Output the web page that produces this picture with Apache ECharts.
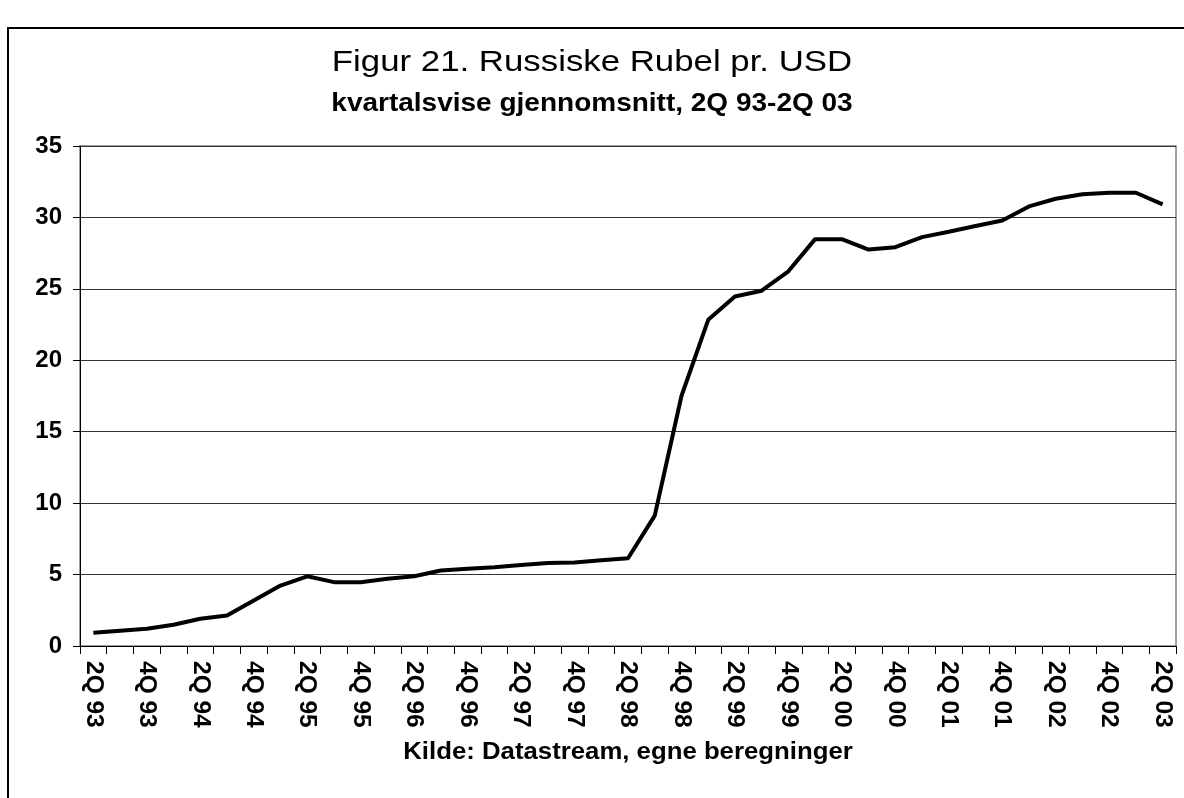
<!DOCTYPE html>
<html>
<head>
<meta charset="utf-8" />
<title>Figur 21. Russiske Rubel pr. USD</title>
<script src="https://cdn.jsdelivr.net/npm/echarts@6/dist/echarts.min.js"></script>
<style>
  html, body { margin: 0; padding: 0; background: #fff; }
  #rubelChart { width: 1184px; height: 798px; }
</style>
</head>
<body>
<div id="rubelChart"></div>
<script>
// quarterly averages, 2Q 93 - 2Q 03
const quarters = [
  "2Q 93", "3Q 93", "4Q 93", "1Q 94", "2Q 94", "3Q 94", "4Q 94", "1Q 95",
  "2Q 95", "3Q 95", "4Q 95", "1Q 96", "2Q 96", "3Q 96", "4Q 96", "1Q 97",
  "2Q 97", "3Q 97", "4Q 97", "1Q 98", "2Q 98", "3Q 98", "4Q 98", "1Q 99",
  "2Q 99", "3Q 99", "4Q 99", "1Q 00", "2Q 00", "3Q 00", "4Q 00", "1Q 01",
  "2Q 01", "3Q 01", "4Q 01", "1Q 02", "2Q 02", "3Q 02", "4Q 02", "1Q 03",
  "2Q 03"
];
const rubPerUsd = [
  0.93, 1.07, 1.21, 1.49, 1.91, 2.14, 3.19, 4.23,
  4.88, 4.47, 4.47, 4.7, 4.88, 5.28, 5.4, 5.51,
  5.67, 5.81, 5.85, 6.0, 6.14, 9.13, 17.5, 22.83,
  24.47, 24.87, 26.23, 28.48, 28.48, 27.75, 27.92, 28.62,
  29.0, 29.4, 29.79, 30.77, 31.31, 31.62, 31.73, 31.73,
  30.91
];
const yTicks = [0, 5, 10, 15, 20, 25, 30, 35];

const FONT = "'Liberation Sans', Arial, sans-serif";

// the source picture is a bit wider than tall, so headings get a small x stretch
const heading = (text, x, y, size, weight, stretch) => ({
  type: "text",
  x: x,
  y: y,
  scaleX: stretch,
  silent: true,
  style: {
    text: text,
    x: 0,
    y: 0,
    align: "center",
    verticalAlign: "top",
    fontFamily: FONT,
    fontSize: size,
    fontWeight: weight,
    fill: "#000",
  },
});

const chart = echarts.init(document.getElementById("rubelChart"));

const option = {
  backgroundColor: "#fff",
  animation: false,
  textStyle: { fontFamily: FONT, color: "#000" },
  graphic: [
    {
      // outer frame
      type: "rect",
      shape: { x: 8, y: 28, width: 1200, height: 800 },
      style: { fill: "none", stroke: "#000", lineWidth: 2 },
      silent: true,
    },
    {
      // plot area border
      type: "rect",
      shape: { x: 80, y: 146, width: 1096, height: 500 },
      style: { fill: "none", stroke: "#808080", lineWidth: 1.5 },
      silent: true,
      z: 0,
    },
    heading("Figur 21. Russiske Rubel pr. USD", 592, 48, 30, "normal", 1.16),
    heading("kvartalsvise gjennomsnitt, 2Q 93-2Q 03", 592, 92, 25, "bold", 1.12),
    heading("Kilde: Datastream, egne beregninger", 628, 741, 23, "bold", 1.12),
  ],
  grid: {
    left: 80,
    right: 8,
    top: 146,
    bottom: 152,
  },
  xAxis: {
    type: "category",
    data: quarters,
    boundaryGap: true,
    axisLine: { lineStyle: { color: "#000", width: 1 } },
    axisTick: { show: true, interval: 0, length: 8, lineStyle: { color: "#000" } },
    axisLabel: {
      interval: 1,
      rotate: -90,
      margin: 15,
      fontFamily: FONT,
      fontSize: 24.5,
      fontWeight: "bold",
      color: "#000",
    },
    splitLine: { show: false },
  },
  yAxis: {
    type: "value",
    min: yTicks[0],
    max: yTicks[yTicks.length - 1],
    interval: 5,
    axisLine: { show: true, lineStyle: { color: "#000", width: 1 } },
    axisTick: { show: true, length: 7, lineStyle: { color: "#000" } },
    axisLabel: {
      margin: 18,
      fontFamily: FONT,
      fontSize: 24,
      fontWeight: "bold",
      color: "#000",
    },
    splitLine: { show: true, lineStyle: { color: "#333", width: 1 } },
  },
  series: [
    {
      name: "RUB/USD",
      type: "line",
      data: rubPerUsd,
      symbol: "none",
      smooth: false,
      lineStyle: { color: "#000", width: 4 },
      z: 5,
    },
  ],
};

chart.setOption(option);

window.addEventListener("resize", () => {
  chart.resize();
});
</script>
</body>
</html>
